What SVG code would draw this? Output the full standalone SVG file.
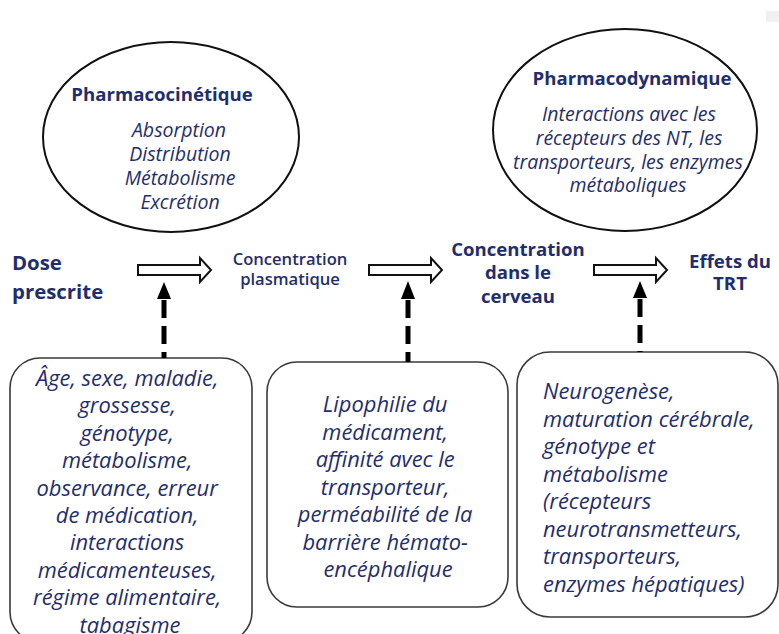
<svg xmlns="http://www.w3.org/2000/svg" width="779" height="634" viewBox="0 0 779 634">
<style>
  text { font-family: "Open Sans", "Noto Sans", "Liberation Sans", sans-serif; fill: #1f2e6e; }
  .hd { font-weight: 700; font-size: 18.6px; }
  .it { font-style: italic; font-size: 19.5px; }
  .bx { font-style: italic; font-size: 21.9px; }
  .ell { fill: #ffffff; stroke: #111111; stroke-width: 2; }
  .box { fill: #ffffff; stroke: #3a3a3a; stroke-width: 1.6; }
  .hollow { fill: #ffffff; stroke: #111111; stroke-width: 2; stroke-linejoin: miter; }
  .dash { stroke: #000000; stroke-width: 5; stroke-dasharray: 18 8; fill: none; }
  .head { fill: #000000; }
</style>
<rect x="766" y="11" width="13" height="11" fill="#f0f0f0"/>

<g id="pharmacocinetique">
  <ellipse class="ell" cx="171" cy="137" rx="128" ry="95"/>
  <text class="hd" x="162" y="101" text-anchor="middle">Pharmacocinétique</text>
  <text class="it" x="179" y="137" text-anchor="middle">Absorption</text>
  <text class="it" x="180" y="161" text-anchor="middle">Distribution</text>
  <text class="it" x="180" y="185" text-anchor="middle">Métabolisme</text>
  <text class="it" x="180" y="209" text-anchor="middle">Excrétion</text>
</g>

<g id="pharmacodynamique">
  <ellipse class="ell" cx="625" cy="130" rx="132" ry="101"/>
  <text class="hd" x="632" y="85" text-anchor="middle">Pharmacodynamique</text>
  <text class="it" x="629" y="121" text-anchor="middle">Interactions avec les</text>
  <text class="it" x="629" y="145" text-anchor="middle">récepteurs des NT, les</text>
  <text class="it" x="628" y="169" text-anchor="middle">transporteurs, les enzymes</text>
  <text class="it" x="628" y="192" text-anchor="middle">métaboliques</text>
</g>

<g id="dose">
  <text class="hd" style="font-size:20.4px" x="12" y="270">Dose</text>
  <text class="hd" style="font-size:20.4px" x="12" y="299">prescrite</text>
</g>

<g id="conc-plasma">
  <text class="hd" style="font-size:16.6px;font-weight:600" x="290" y="265" text-anchor="middle">Concentration</text>
  <text class="hd" style="font-size:16.6px;font-weight:600" x="290" y="285" text-anchor="middle">plasmatique</text>
</g>

<g id="conc-cerveau">
  <text class="hd" x="518" y="256" text-anchor="middle">Concentration</text>
  <text class="hd" x="518" y="279" text-anchor="middle">dans le</text>
  <text class="hd" x="518" y="303" text-anchor="middle">cerveau</text>
</g>

<g id="effets">
  <text class="hd" x="730" y="268" text-anchor="middle">Effets du</text>
  <text class="hd" x="730" y="290" text-anchor="middle">TRT</text>
</g>

<g id="box-facteurs-pk">
  <rect class="box" x="10" y="358" width="242" height="284" rx="30" ry="30"/>
  <text class="bx" text-anchor="middle">
    <tspan x="130" y="386">Âge, sexe, maladie,</tspan>
    <tspan x="130" y="413.4">grossesse,</tspan>
    <tspan x="130" y="440.8">génotype,</tspan>
    <tspan x="130" y="468.2">métabolisme,</tspan>
    <tspan x="130" y="495.6">observance, erreur</tspan>
    <tspan x="130" y="523">de médication,</tspan>
    <tspan x="130" y="550.4">interactions</tspan>
    <tspan x="130" y="577.8">médicamenteuses,</tspan>
    <tspan x="130" y="605.2">régime alimentaire,</tspan>
    <tspan x="130" y="632.6">tabagisme</tspan>
  </text>
</g>

<g id="box-barriere">
  <rect class="box" x="267" y="362" width="241" height="245" rx="30" ry="30"/>
  <text class="bx" text-anchor="middle">
    <tspan x="388" y="412">Lipophilie du</tspan>
    <tspan x="388" y="439.5">médicament,</tspan>
    <tspan x="388" y="467">affinité avec le</tspan>
    <tspan x="388" y="494.5">transporteur,</tspan>
    <tspan x="388" y="522">perméabilité de la</tspan>
    <tspan x="388" y="549.5">barrière hémato-</tspan>
    <tspan x="388" y="577">encéphalique</tspan>
  </text>
</g>

<g id="box-pd">
  <rect class="box" x="517" y="352" width="261" height="265" rx="33" ry="33"/>
  <text class="bx">
    <tspan x="543" y="399">Neurogenèse,</tspan>
    <tspan x="543" y="426.5">maturation cérébrale,</tspan>
    <tspan x="543" y="454">génotype et</tspan>
    <tspan x="543" y="481.5">métabolisme</tspan>
    <tspan x="543" y="509">(récepteurs</tspan>
    <tspan x="543" y="536.5">neurotransmetteurs,</tspan>
    <tspan x="543" y="564">transporteurs,</tspan>
    <tspan x="543" y="591.5">enzymes hépatiques)</tspan>
  </text>
</g>

<g id="connectors">
  <path class="hollow" d="M138,265 H200 V258 L211,270 L200,282 V275 H138 Z"/>
  <path class="hollow" d="M369,265 H431 V258 L442,270 L431,282 V275 H369 Z"/>
  <path class="hollow" d="M594,265 H656 V258 L667,270 L656,282 V275 H594 Z"/>

  <line class="dash" x1="164" y1="300" x2="164" y2="358"/>
  <polygon class="head" points="157,299 171,299 164,282"/>
  <line class="dash" x1="408" y1="300" x2="408" y2="362"/>
  <polygon class="head" points="401,299 415,299 408,281"/>
  <line class="dash" x1="640" y1="299" x2="640" y2="352"/>
  <polygon class="head" points="633,298 647,298 640,281"/>
</g>
</svg>
